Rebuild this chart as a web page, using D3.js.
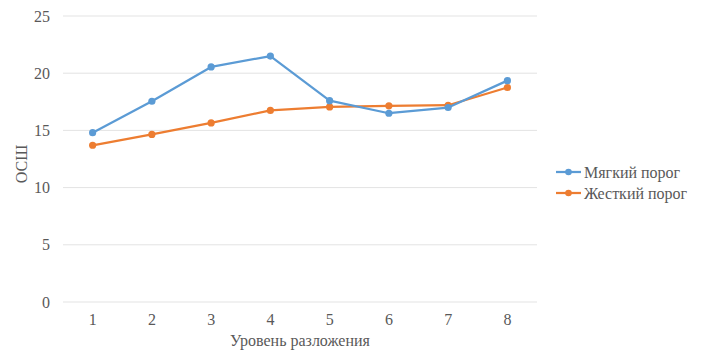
<!DOCTYPE html>
<html>
<head>
<meta charset="utf-8">
<script src="https://cdn.jsdelivr.net/npm/d3@7"></script>
<style>
  html, body { margin: 0; padding: 0; background: #fff; }
  svg { display: block; }
</style>
</head>
<body>
<svg id="chart" width="701" height="353"></svg>
<script>
// Decomposition levels (x categories)
const levels = [1, 2, 3, 4, 5, 6, 7, 8];
// SNR values per threshold type
const softThreshold = [14.8, 17.55, 20.55, 21.5, 17.6, 16.5, 17.0, 19.35];
const hardThreshold = [13.7, 14.65, 15.65, 16.75, 17.05, 17.15, 17.2, 18.75];
const yTicks = [0, 5, 10, 15, 20, 25];
const seriesNames = ["Мягкий порог", "Жесткий порог"];
const seriesColors = ["#5B9BD5", "#ED7D31"];
const yTitle = "ОСШ";
const xTitle = "Уровень разложения";

const FONT = "'Liberation Serif', 'Times New Roman', serif";
const TEXT_COLOR = "#595959";
const FONT_SIZE = "16px";

const svg = d3.select("#chart");
const plot = { left: 63, right: 537, top: 16, bottom: 302 };

const x = d3.scaleBand().domain(levels).range([plot.left, plot.right]);
const y = d3.scaleLinear().domain([0, 25]).range([plot.bottom, plot.top]);

function styleText(sel) {
  return sel.style("font-family", FONT)
    .style("font-size", FONT_SIZE)
    .style("fill", TEXT_COLOR);
}

// Horizontal gridlines
svg.append("g")
  .selectAll("line")
  .data(yTicks)
  .join("line")
  .attr("x1", plot.left).attr("x2", plot.right)
  .attr("y1", d => y(d)).attr("y2", d => y(d))
  .attr("stroke", "#e3e3e3").attr("stroke-width", 1);

// Y axis labels
const yAxis = svg.append("g")
  .attr("transform", `translate(${plot.left - 13},0)`)
  .call(d3.axisLeft(y).tickValues(yTicks).tickSize(0).tickPadding(0));
yAxis.select(".domain").remove();
styleText(yAxis.selectAll("text"));

// X axis labels
const xAxis = svg.append("g")
  .attr("transform", `translate(0,${plot.bottom + 12})`)
  .call(d3.axisBottom(x).tickSize(0).tickPadding(0));
xAxis.select(".domain").remove();
styleText(xAxis.selectAll("text").attr("dy", "0.71em"));

// Axis titles
styleText(svg.append("text")
  .attr("transform", `translate(27,${(plot.top + plot.bottom) / 2 + 5}) rotate(-90)`)
  .attr("text-anchor", "middle")
  .text(yTitle));

styleText(svg.append("text")
  .attr("x", (plot.left + plot.right) / 2)
  .attr("y", 346)
  .attr("text-anchor", "middle")
  .text(xTitle));

// Series lines and markers
const series = [softThreshold, hardThreshold];
const line = d3.line()
  .x((d, i) => x(levels[i]) + x.bandwidth() / 2)
  .y(d => y(d));

// Hard-threshold series drawn first so the soft one sits on top where they cross
[1, 0].forEach(k => {
  const g = svg.append("g");
  g.append("path")
    .datum(series[k])
    .attr("d", line)
    .attr("fill", "none")
    .attr("stroke", seriesColors[k])
    .attr("stroke-width", 2.25)
    .attr("stroke-linejoin", "round");
  g.selectAll("circle")
    .data(series[k])
    .join("circle")
    .attr("cx", (d, i) => x(levels[i]) + x.bandwidth() / 2)
    .attr("cy", d => y(d))
    .attr("r", 3.6)
    .attr("fill", seriesColors[k]);
});

// Legend
const legend = svg.append("g").attr("transform", "translate(556,0)");
seriesNames.forEach((name, k) => {
  const ly = 172 + k * 21;
  legend.append("line")
    .attr("x1", 0).attr("x2", 25)
    .attr("y1", ly).attr("y2", ly)
    .attr("stroke", seriesColors[k]).attr("stroke-width", 2.25);
  legend.append("circle")
    .attr("cx", 12.5).attr("cy", ly).attr("r", 3.3)
    .attr("fill", seriesColors[k]);
  styleText(legend.append("text")
    .attr("x", 28).attr("y", ly)
    .attr("dy", "0.35em")
    .text(name));
});
</script>
</body>
</html>
